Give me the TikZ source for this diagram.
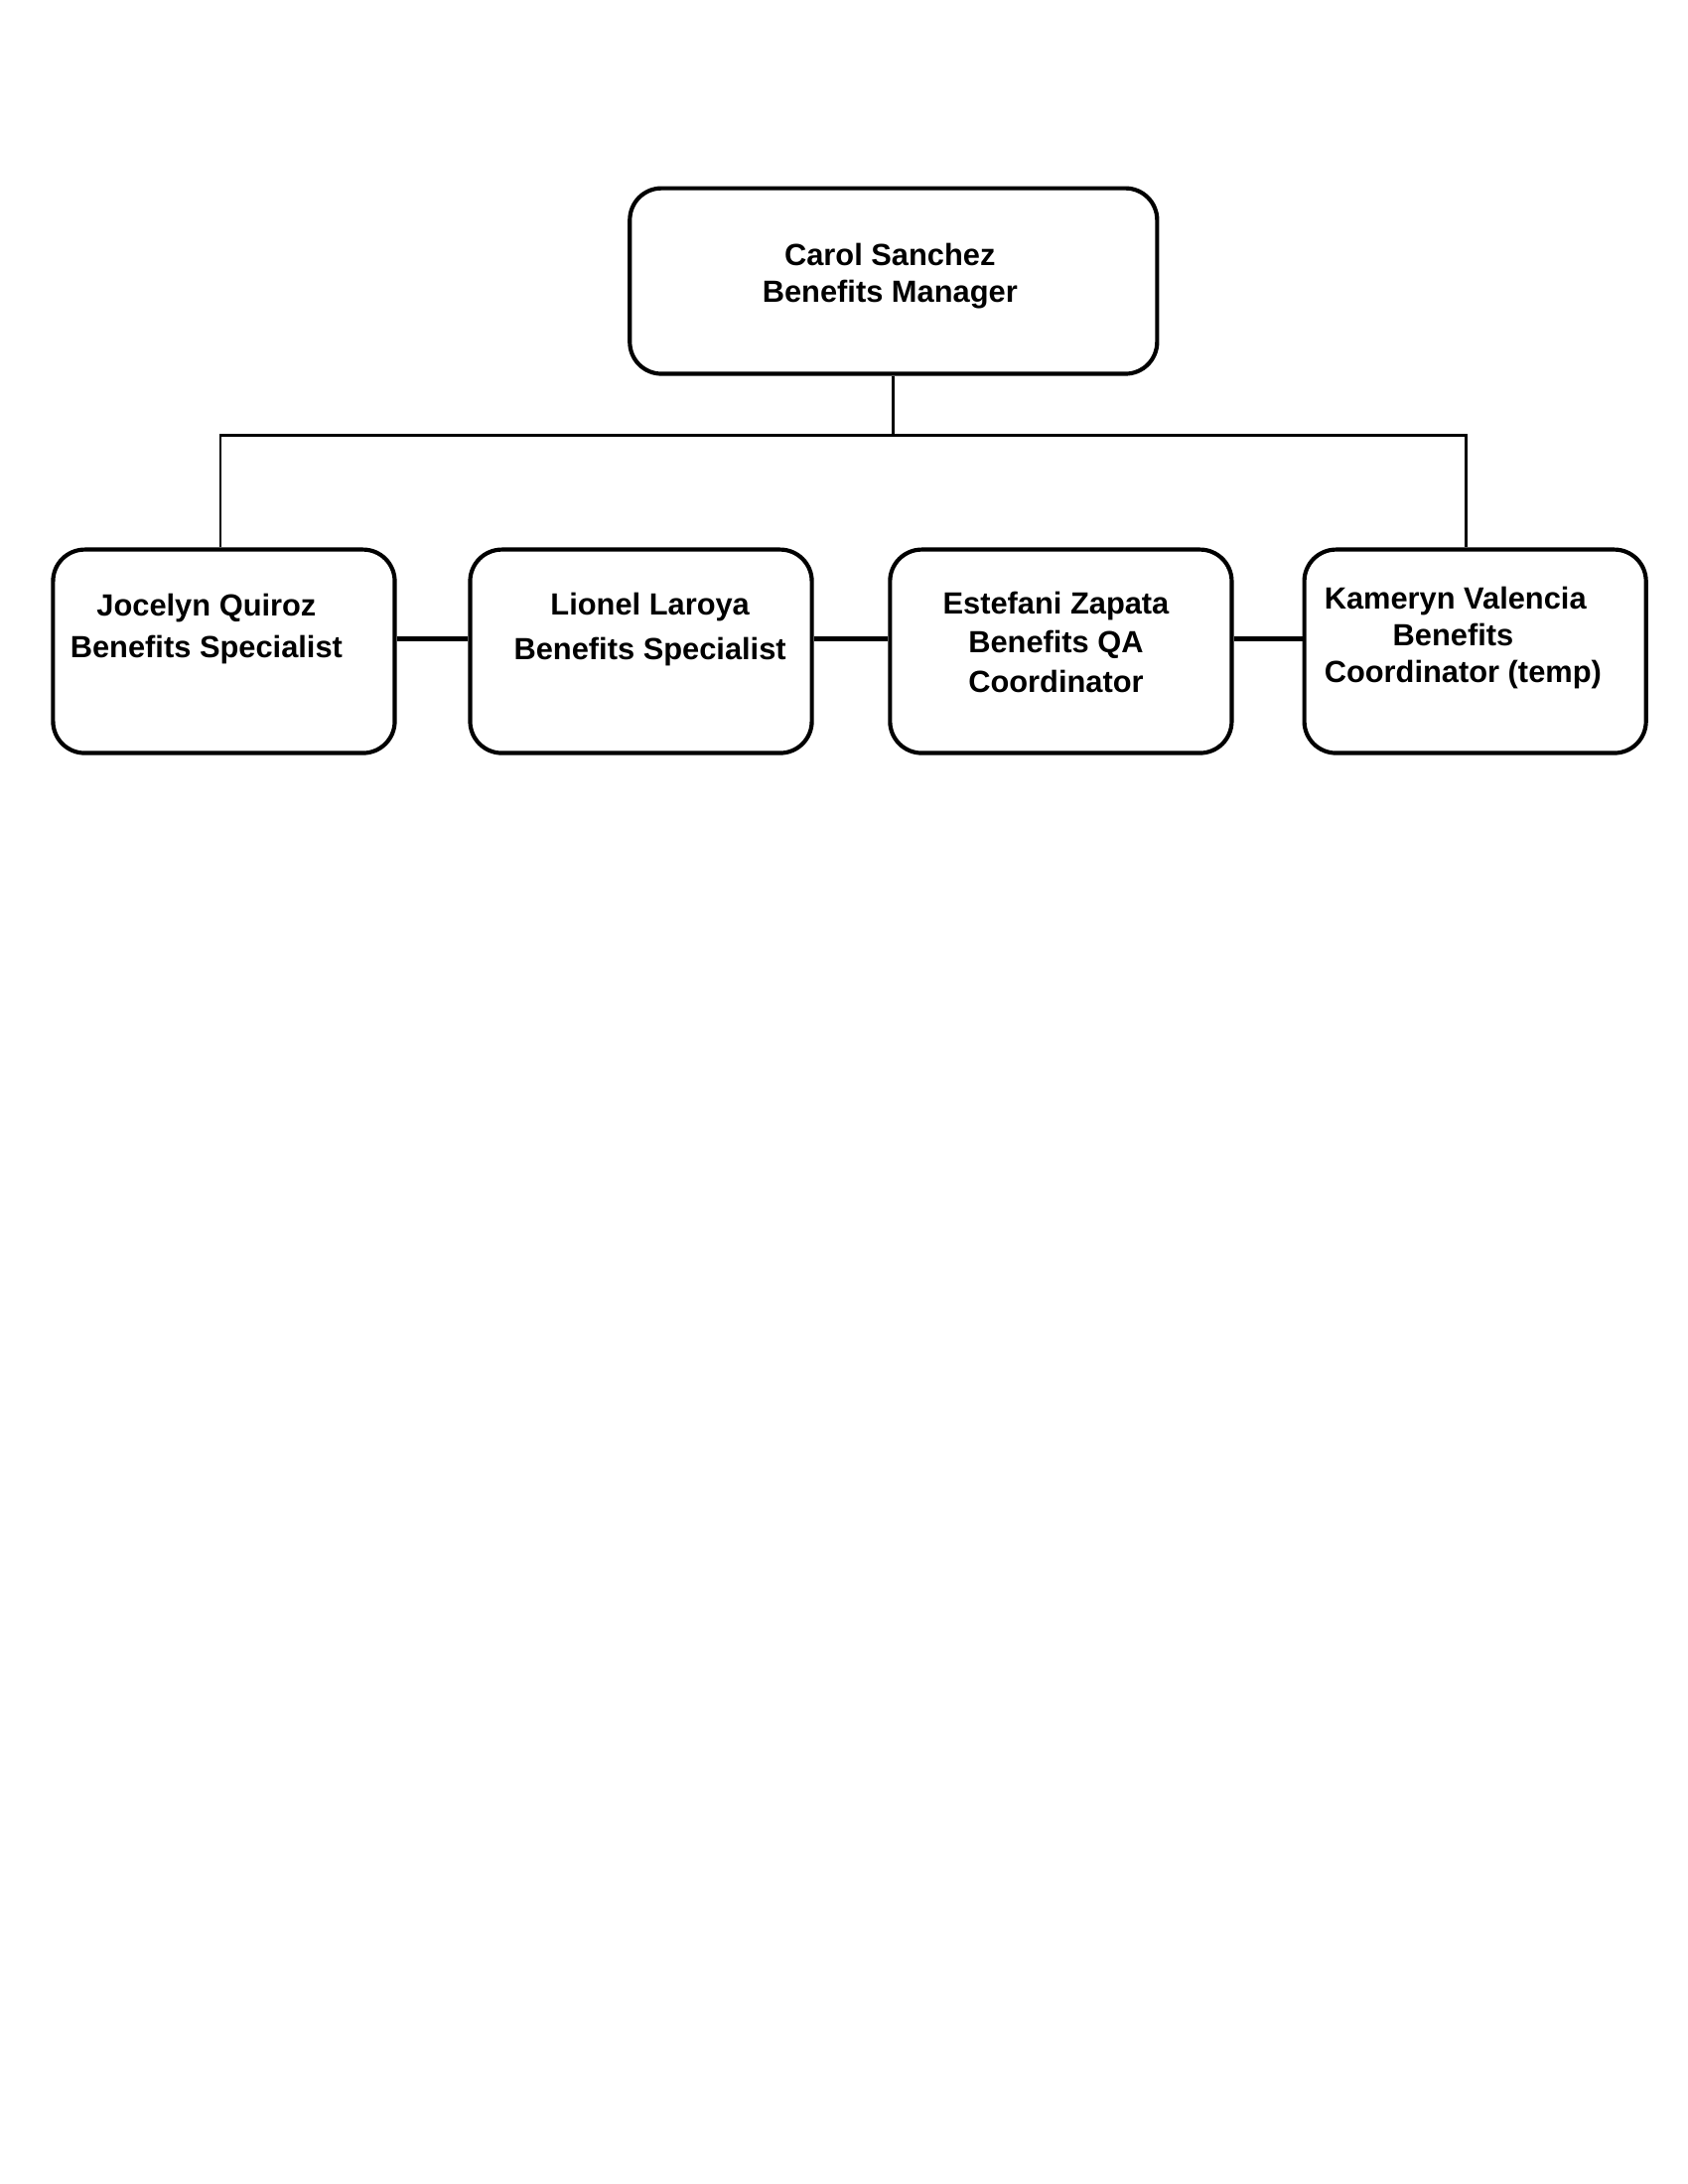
\documentclass[tikz,border=0pt]{standalone}
\usepackage{fontspec}
\setmainfont{Liberation Sans}
\begin{document}
\begin{tikzpicture}[x=0.5058pt,y=-0.5058pt,
  box/.style={draw=black,line width=1.5pt,rounded corners=11.5pt,inner sep=0pt},
  lbl/.style={font=\bfseries\fontsize{11.1}{14.5}\selectfont,align=center,inner sep=0pt},
  link/.style={draw=black,line width=1pt},
  side/.style={draw=black,line width=1.7pt}]
\useasboundingbox (0,0) rectangle (1210,1566);
% boxes
\node[box,minimum width=191.2pt,minimum height=67.3pt] (top) at (640.5,201.5) {};
\node[box,minimum width=123.9pt,minimum height=73.8pt] (b1) at (160.5,467) {};
\node[box,minimum width=123.9pt,minimum height=73.8pt] (b2) at (459.5,467) {};
\node[box,minimum width=123.9pt,minimum height=73.8pt] (b3) at (760.5,467) {};
\node[box,minimum width=123.9pt,minimum height=73.8pt] (b4) at (1057.5,467) {};
% labels
\node[lbl,font=\bfseries\fontsize{11.1}{13.2}\selectfont] (ttop) at (638,198) {Carol Sanchez\\Benefits Manager};
\node[lbl,font=\bfseries\fontsize{11.1}{15.2}\selectfont] (t1) at (148,451) {Jocelyn Quiroz\\Benefits Specialist};
\node[lbl,font=\bfseries\fontsize{11.1}{16.2}\selectfont] (t2) at (466,451) {Lionel Laroya\\Benefits Specialist};
\node[lbl,font=\bfseries\fontsize{11.1}{14.2}\selectfont] (t3) at (757,460.5) {Estefani Zapata\\Benefits QA\\Coordinator};
\node[lbl,align=left,anchor=west,font=\bfseries\fontsize{11.1}{13.4}\selectfont] (t4) at (949,457.5) {Kameryn Valencia\\\hspace*{24.8pt}Benefits\\Coordinator (temp)};
% connectors
\coordinate (bar) at (640.5,312);
\draw[link] (top.south) -- (bar);
\draw[link] ([xshift=-1.25pt]b1.north) |- (bar) -| ([xshift=-3.3pt]b4.north);
\draw[side] ([yshift=4.5pt]b1.east) -- ([yshift=4.5pt]b2.west);
\draw[side] ([yshift=4.5pt]b2.east) -- ([yshift=4.5pt]b3.west);
\draw[side] ([yshift=4.5pt]b3.east) -- ([yshift=4.5pt]b4.west);
\end{tikzpicture}
\end{document}
